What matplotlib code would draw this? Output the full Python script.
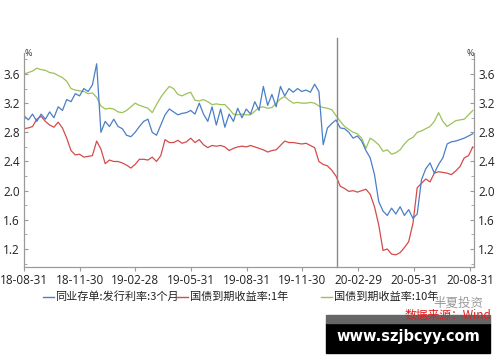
import matplotlib
matplotlib.use("Agg")
import matplotlib.pyplot as plt
import pandas as pd
from matplotlib.lines import Line2D
from matplotlib.patches import Rectangle

plt.rcParams['font.family'] = ['Open Sans', 'Noto Sans CJK SC', 'DejaVu Sans']

start_date = "2018-08-31"
n_weeks = 106

ncd_3m = [3.03, 2.97, 3.05, 2.95, 3.05, 2.98, 3.08, 3.00, 3.15, 3.10,
          3.25, 3.22, 3.33, 3.30, 3.40, 3.36, 3.45, 3.74, 2.80, 2.95,
          2.88, 2.98, 2.88, 2.85, 2.76, 2.74, 2.80, 2.88, 2.95, 2.98,
          2.80, 2.76, 2.90, 3.04, 3.12, 3.08, 3.04, 3.06, 3.07, 3.10,
          3.05, 3.20, 3.05, 2.95, 3.15, 2.90, 3.12, 2.87, 3.05, 2.95,
          3.13, 3.00, 3.12, 3.05, 3.22, 3.10, 3.43, 3.17, 3.32, 3.15,
          3.43, 3.30, 3.40, 3.35, 3.40, 3.36, 3.38, 3.35, 3.46, 3.36,
          2.63, 2.86, 2.92, 2.97, 2.86, 2.85, 2.80, 2.72, 2.75, 2.68,
          2.55, 2.45, 2.22, 1.85, 1.72, 1.66, 1.76, 1.68, 1.78, 1.66,
          1.74, 1.62, 1.68, 2.15, 2.30, 2.38, 2.24, 2.36, 2.45, 2.64,
          2.67, 2.68, 2.70, 2.72, 2.75, 2.78]

gov_1y = [2.85, 2.86, 2.88, 2.98, 3.02, 2.95, 2.90, 2.87, 2.94, 2.86,
          2.72, 2.55, 2.49, 2.50, 2.46, 2.47, 2.48, 2.68, 2.57, 2.37,
          2.42, 2.40, 2.40, 2.38, 2.35, 2.31, 2.36, 2.43, 2.43, 2.42,
          2.46, 2.40, 2.48, 2.70, 2.66, 2.66, 2.69, 2.65, 2.67, 2.72,
          2.66, 2.70, 2.63, 2.59, 2.62, 2.61, 2.62, 2.60, 2.55, 2.58,
          2.60, 2.61, 2.60, 2.62, 2.60, 2.58, 2.56, 2.53, 2.55, 2.56,
          2.62, 2.68, 2.66, 2.66, 2.65, 2.64, 2.65, 2.62, 2.59, 2.40,
          2.36, 2.34, 2.28, 2.20, 2.06, 2.03, 1.99, 2.00, 1.98, 2.00,
          2.02, 1.95, 1.78, 1.53, 1.18, 1.20, 1.13, 1.12, 1.15, 1.22,
          1.30, 1.55, 2.04, 2.10, 2.16, 2.12, 2.24, 2.26, 2.25, 2.24,
          2.22, 2.27, 2.33, 2.45, 2.48, 2.60]

gov_10y = [3.60, 3.62, 3.64, 3.68, 3.66, 3.65, 3.62, 3.61, 3.58, 3.55,
           3.50, 3.40, 3.38, 3.37, 3.36, 3.33, 3.34, 3.28, 3.16, 3.12,
           3.13, 3.12, 3.08, 3.07, 3.10, 3.15, 3.20, 3.17, 3.15, 3.13,
           3.07, 3.18, 3.28, 3.36, 3.43, 3.40, 3.32, 3.30, 3.33, 3.35,
           3.24, 3.23, 3.25, 3.22, 3.18, 3.19, 3.18, 3.18, 3.12, 3.05,
           3.04, 3.05, 3.04, 3.04, 3.09, 3.14, 3.15, 3.13, 3.14, 3.20,
           3.26, 3.29, 3.24, 3.20, 3.21, 3.20, 3.20, 3.21, 3.20, 3.16,
           3.14, 3.13, 3.11, 3.03, 2.95, 2.88, 2.84, 2.80, 2.78, 2.72,
           2.58, 2.72, 2.68, 2.63, 2.54, 2.56, 2.50, 2.52, 2.56, 2.64,
           2.70, 2.73, 2.80, 2.82, 2.85, 2.88, 2.95, 3.07, 2.95, 2.88,
           2.92, 2.96, 2.97, 2.98, 3.04, 3.10]

series_names = ["同业存单:发行利率:3个月", "国债到期收益率:1年", "国债到期收益率:10年"]
tick_dates = ["2018-08-31", "2018-11-30", "2019-02-28", "2019-05-31", "2019-08-31",
              "2019-11-30", "2020-02-29", "2020-05-31", "2020-08-31"]
y_ticks = [1.2, 1.6, 2.0, 2.4, 2.8, 3.2, 3.6]
event_date = "2020-01-26"

colors = ["#4a7ec6", "#d44b4b", "#9cc15a"]

dates = pd.date_range(start_date, periods=n_weeks, freq="7D")

fig = plt.figure(figsize=(5, 3.62), dpi=100)
W, H = 500, 362
ax = fig.add_axes([24 / W, 1 - 267 / H, 450 / W, 214 / H])

for vals, c in zip([gov_10y, gov_1y, ncd_3m], [colors[2], colors[1], colors[0]]):
    ax.plot(dates, vals, color=c, lw=0.9)

ax.set_xlim(pd.Timestamp("2018-08-31"), pd.Timestamp("2020-09-06"))
ax.set_ylim(0.953, 3.888)
ax.set_yticks(y_ticks)
ax.set_yticklabels([f"{v:.1f}" for v in y_ticks])
ax.set_yticks([v + 0.2 for v in y_ticks[:-1]] + [1.0, 3.8], minor=True)
ax.set_xticks([pd.Timestamp(d) for d in tick_dates])
ax.set_xticklabels([pd.Timestamp(d).strftime("%y-%m-%d") for d in tick_dates])

spine_c = "#9a9a9a"
for s in ["left", "right", "bottom"]:
    ax.spines[s].set_color(spine_c)
    ax.spines[s].set_linewidth(0.9)
ax.spines["top"].set_visible(False)

ax.tick_params(axis="y", which="both", left=True, right=True, labelleft=True,
               labelright=True, direction="in", length=3, color=spine_c,
               labelsize=8.5, labelcolor="#222222", pad=3)
ax.tick_params(axis="y", which="minor", length=2)
ax.tick_params(axis="x", direction="out", length=3, color=spine_c,
               labelsize=8.5, labelcolor="#222222", pad=2)

ax.axvline(pd.Timestamp(event_date), ymin=0, ymax=1.07, color="#8a8a8a",
           lw=1.0, clip_on=False)

fig.text(28 / W, 1 - 54 / H, "%", fontsize=6.5, ha="center", va="center", color="#333333")
fig.text(470 / W, 1 - 54 / H, "%", fontsize=6.5, ha="center", va="center", color="#333333")

# legend (manual)
leg_y = 1 - 297 / H
leg_items = [(43, 54, 55), (177, 188, 190), (321, 332, 334)]
for (x0, x1, xt), name, c in zip(leg_items, series_names, colors):
    fig.add_artist(Line2D([x0 / W, x1 / W], [leg_y, leg_y], color=c, lw=1.0,
                          transform=fig.transFigure))
    fig.text(xt / W, leg_y, name, fontsize=8, ha="left", va="center",
             color="#222222", family=["Noto Sans CJK SC", "DejaVu Sans"])

# watermark / source
fig.patches.append(Rectangle((326 / W, 1 - 353 / H), 164 / W, 30 / H,
                             transform=fig.transFigure, color="black", zorder=2))
fig.patches.append(Rectangle((326 / W, 1 - 323 / H), 164 / W, 8 / H,
                             transform=fig.transFigure, color="#666666", zorder=2))
fig.text(408 / W, 1 - 337 / H, "www.szjbcyy.com", color="white", fontsize=10.5,
         fontweight="bold", ha="center", va="center", family="DejaVu Sans", zorder=3)
fig.text(458 / W, 1 - 303 / H, "半夏投资", color="#9a9a9a", fontsize=9,
         ha="center", va="center", family=["Noto Sans CJK SC"], zorder=3)
fig.text(448 / W, 1 - 315 / H, "数据来源：Wind", color="#e02020", fontsize=8.5,
         ha="center", va="center", family=["Noto Sans CJK SC", "DejaVu Sans"], zorder=4)

fig.savefig("out.png", dpi=100)
